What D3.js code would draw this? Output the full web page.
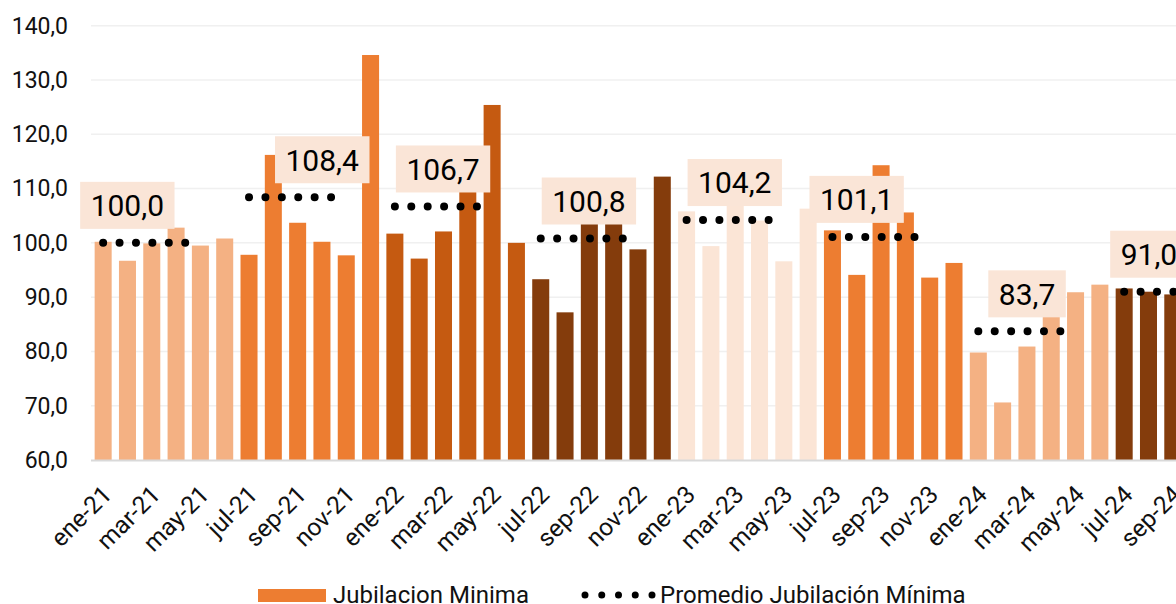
<!DOCTYPE html>
<html>
<head>
<meta charset="utf-8">
<script src="https://cdn.jsdelivr.net/npm/d3@7"></script>
<style>
  body { margin: 0; background: #fff; }
  svg { display: block; font-family: Roboto, "Noto Sans", sans-serif; }
</style>
</head>
<body>
<div id="chart"></div>
<script>
var width = 1176;
var height = 604;

// months shown on the x axis
var months = ['ene-21','feb-21','mar-21','abr-21','may-21','jun-21','jul-21','ago-21','sep-21','oct-21','nov-21','dic-21',
              'ene-22','feb-22','mar-22','abr-22','may-22','jun-22','jul-22','ago-22','sep-22','oct-22','nov-22','dic-22',
              'ene-23','feb-23','mar-23','abr-23','may-23','jun-23','jul-23','ago-23','sep-23','oct-23','nov-23','dic-23',
              'ene-24','feb-24','mar-24','abr-24','may-24','jun-24','jul-24','ago-24','sep-24'];
// jubilacion minima (index)
var values = [100.2, 96.7, 99.9, 102.8, 99.5, 100.8, 97.8, 116.2, 103.7, 100.2, 97.7, 134.6,
              101.7, 97.1, 102.1, 113.9, 125.4, 100.0, 93.3, 87.2, 106.0, 107.3, 98.8, 112.2,
              105.8, 99.4, 113.0, 104.1, 96.6, 106.3, 102.3, 94.1, 114.3, 105.6, 93.6, 96.3,
              79.8, 70.6, 80.9, 88.5, 90.9, 92.3, 91.6, 91.0, 90.5];
// semester averages
var avgStart = [0, 6, 12, 18, 24, 30, 36, 42];
var avgValues = [100.0, 108.4, 106.7, 100.8, 104.2, 101.1, 83.7, 91.0];
var yTicks = [60, 70, 80, 90, 100, 110, 120, 130, 140];

// colour per semester
var semColors = ['#F4B183', '#ED7D31', '#C55A11', '#843C0C', '#FBE5D6', '#ED7D31', '#F4B183', '#843C0C'];
// label box shift from first dot (px)
var labelShift = [-23, 26, 1, 1, 1, -23, 10, -14];

var fmt = function(v) { return d3.format('.1f')(v).replace('.', ','); };

var svg = d3.select('#chart').append('svg')
      .attr('width', width)
      .attr('height', height);

var plotLeft = 91, plotTop = 25.7, plotBottom = 460;

var xScale = d3.scaleBand()
      .domain(months)
      .range([plotLeft, plotLeft + 24.31 * months.length])
      .paddingInner(0.3)
      .paddingOuter(0.15);

var yScale = d3.scaleLinear()
      .domain([60, 140])
      .range([plotBottom, plotTop]);

// gridlines
svg.append('g').selectAll('line')
      .data(yTicks.slice(1))
      .enter().append('line')
      .attr('x1', plotLeft).attr('x2', width)
      .attr('y1', d => yScale(d)).attr('y2', d => yScale(d))
      .attr('stroke', '#F0F0F0')
      .attr('stroke-width', 1.5);

// y axis labels
var yAxis = d3.axisLeft(yScale)
      .tickValues(yTicks)
      .tickSize(0)
      .tickPadding(0)
      .tickFormat(fmt);
var yg = svg.append('g')
      .attr('transform', 'translate(68,0)')
      .call(yAxis);
yg.select('.domain').remove();
yg.selectAll('text')
      .style('font-size', '23px')
      .style('fill', '#111')
      .style('font-family', 'Roboto, sans-serif');

// bars
svg.append('g').selectAll('rect')
      .data(values)
      .enter().append('rect')
      .attr('x', (d, i) => xScale(months[i]))
      .attr('width', xScale.bandwidth())
      .attr('y', d => yScale(d))
      .attr('height', d => plotBottom - yScale(d))
      .attr('fill', (d, i) => semColors[Math.floor(i / 6)]);

// x axis line
svg.append('line')
      .attr('x1', plotLeft).attr('x2', width)
      .attr('y1', plotBottom + 0.5).attr('y2', plotBottom + 0.5)
      .attr('stroke', '#D9D9D9')
      .attr('stroke-width', 2);

// x tick labels, every other month
var xg = svg.append('g');
xg.selectAll('text')
      .data(months.filter((m, i) => i % 2 == 0))
      .enter().append('text')
      .attr('transform', d => 'translate(' + (xScale(d) + xScale.bandwidth() / 2 + 4) + ',' + (plotBottom + 30) + ') rotate(-45)')
      .attr('text-anchor', 'end')
      .attr('dy', '0.35em')
      .style('font-size', '24.5px')
      .style('fill', '#111')
      .text(d => d);

// dotted average lines + labels
var dotGap = xScale.step() * 0.675;
var avgG = svg.append('g');
avgValues.forEach(function(v, k) {
      var x0 = xScale(months[avgStart[k]]) + xScale.bandwidth() / 2;
      var y0 = yScale(v);
      var g = avgG.append('g');
      g.append('line')
            .attr('x1', x0).attr('x2', x0 + dotGap * 5 + 0.1)
            .attr('y1', y0).attr('y2', y0)
            .attr('stroke', '#000')
            .attr('stroke-width', 8)
            .attr('stroke-linecap', 'round')
            .attr('stroke-dasharray', '0,' + dotGap);

      var bx = x0 + labelShift[k];
      var box = g.append('rect')
            .attr('fill', '#FAE5D7');
      var t = g.append('text')
            .attr('x', bx + 10.5)
            .attr('y', y0 - 14 - 23.5)
            .attr('dy', '0.36em')
            .style('font-size', '30px')
            .style('fill', '#000')
            .text(fmt(v));
      var bb = t.node().getBBox();
      box.attr('x', bx)
            .attr('y', y0 - 14 - 47)
            .attr('width', bb.width + 21)
            .attr('height', 47);
});

// legend
var lg = svg.append('g');
lg.append('rect')
      .attr('x', 258).attr('y', 589)
      .attr('width', 68).attr('height', 13)
      .attr('fill', '#ED7D31');
lg.append('text')
      .attr('x', 333).attr('y', 595)
      .attr('dy', '0.35em')
      .style('font-size', '24px')
      .style('fill', '#111')
      .text('Jubilacion Minima');
lg.append('line')
      .attr('x1', 585).attr('x2', 652.1)
      .attr('y1', 595).attr('y2', 595)
      .attr('stroke', '#000')
      .attr('stroke-width', 7)
      .attr('stroke-linecap', 'round')
      .attr('stroke-dasharray', '0,16.75');
lg.append('text')
      .attr('x', 660).attr('y', 595)
      .attr('dy', '0.35em')
      .style('font-size', '24px')
      .style('fill', '#111')
      .text('Promedio Jubilación Mínima');
</script>
</body>
</html>
